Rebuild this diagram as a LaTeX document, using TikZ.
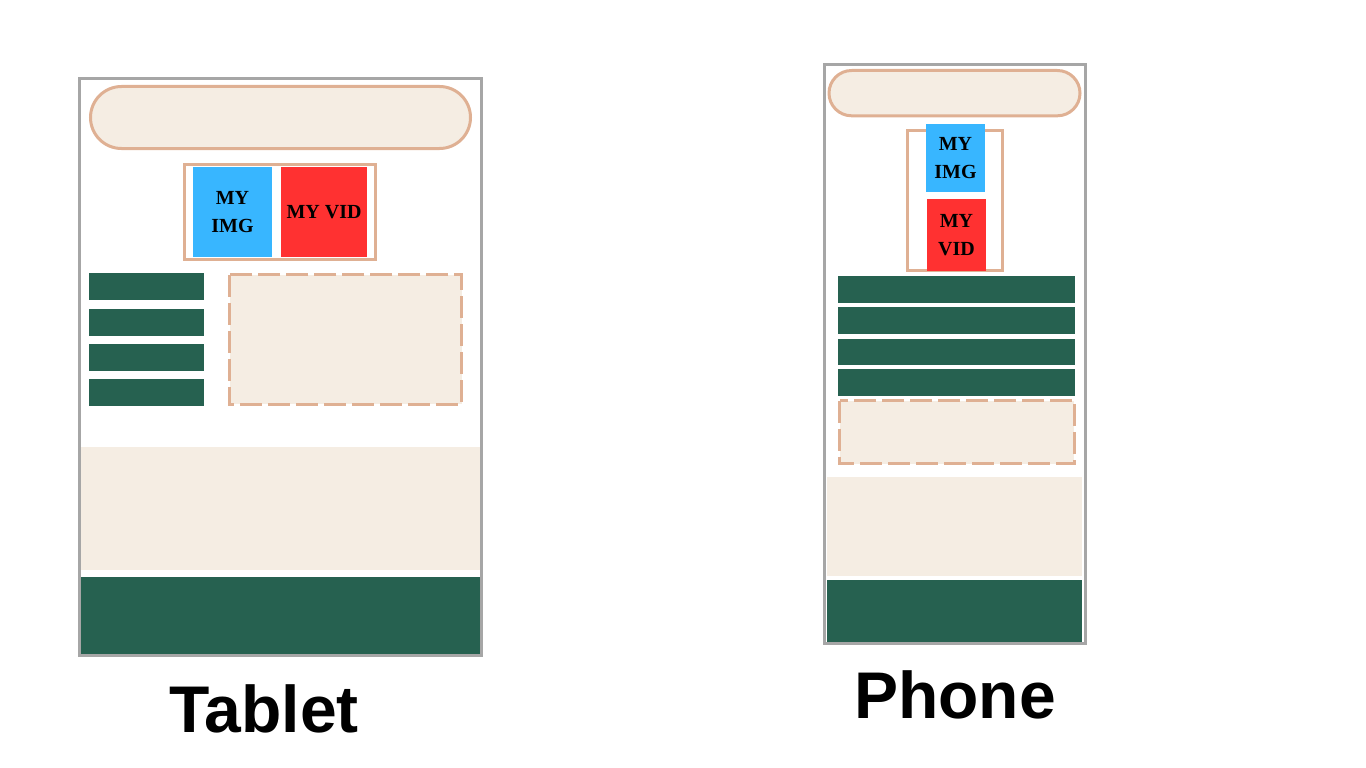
\documentclass[tikz,border=0pt]{standalone}
\usepackage{fontspec}
\setmainfont{Liberation Sans}
\newfontfamily\mediafont{Liberation Serif}
\usepackage{tikz}
\definecolor{frameGray}{HTML}{A6A6A6}
\definecolor{tan}{HTML}{DFB093}
\definecolor{cream}{HTML}{F5EDE3}
\definecolor{deepGreen}{HTML}{266150}
\definecolor{imgBlue}{HTML}{38B6FF}
\definecolor{vidRed}{HTML}{FF3131}

\begin{document}
\begin{tikzpicture}[x=1pt,y=-1pt,
  frame/.style={draw=frameGray, line width=3pt},
  pill/.style={draw=tan, fill=cream, line width=3pt},
  holder/.style={draw=tan, line width=3pt},
  slot/.style={draw=tan, fill=cream, line width=3pt, dash pattern=on 22pt off 6pt},
  navbar/.style={fill=deepGreen},
  band/.style={fill=cream},
  media/.style={inner sep=0pt, align=center, font=\fontsize{20}{28}\selectfont\mediafont\bfseries},
  device/.style={inner sep=0pt, font=\fontsize{66}{70}\selectfont\bfseries}]
\useasboundingbox (0,0) rectangle (1366,768);
% tablet
\fill[band] (81,447.3) rectangle (480,570);
\fill[navbar] (81,576.7) rectangle (480,654.3);
\draw[frame] (79.5,79) rectangle (481.5,655.5);
\draw[pill, rounded corners=31pt] (90.5,86.5) rectangle (470.5,148.5);
\draw[holder] (184.8,164.8) rectangle (375.8,259.2);
\node[media, fill=imgBlue, minimum width=79.6pt, minimum height=90.6pt] (tImg) at (232.5,212) {MY\\IMG};
\node[media, fill=vidRed, minimum width=86.6pt, minimum height=90.6pt] (tVid) at (324,212) {MY VID};
\foreach \y in {273.3,309,344,379}
  \fill[navbar] (89,\y) rectangle (204,\y+26.7);
\draw[slot] (229.5,274.8) rectangle (461.5,404.2);
\node[device] (tablet) at (264,709) {Tablet};
% phone
\fill[band] (827,476.7) rectangle (1082.3,576);
\fill[navbar] (827,580) rectangle (1082.3,642);
\draw[frame] (824.5,64.5) rectangle (1085.5,643.5);
\draw[pill, rounded corners=22.6pt] (829,70.5) rectangle (1080,115.8);
\draw[holder] (907.5,130.5) rectangle (1002.5,270.8);
\node[media, fill=imgBlue, minimum width=59pt, minimum height=68.3pt] (pImg) at (955.5,158.2) {MY\\IMG};
\node[media, fill=vidRed, minimum width=59pt, minimum height=71.7pt] (pVid) at (956.5,234.8) {MY\\VID};
\foreach \y in {276,307,338.7,369}
  \fill[navbar] (838,\y) rectangle (1075,\y+26.7);
\draw[slot] (839.5,400.5) rectangle (1074.2,463.8);
\node[device] (phone) at (955,695) {Phone};
\end{tikzpicture}
\end{document}
